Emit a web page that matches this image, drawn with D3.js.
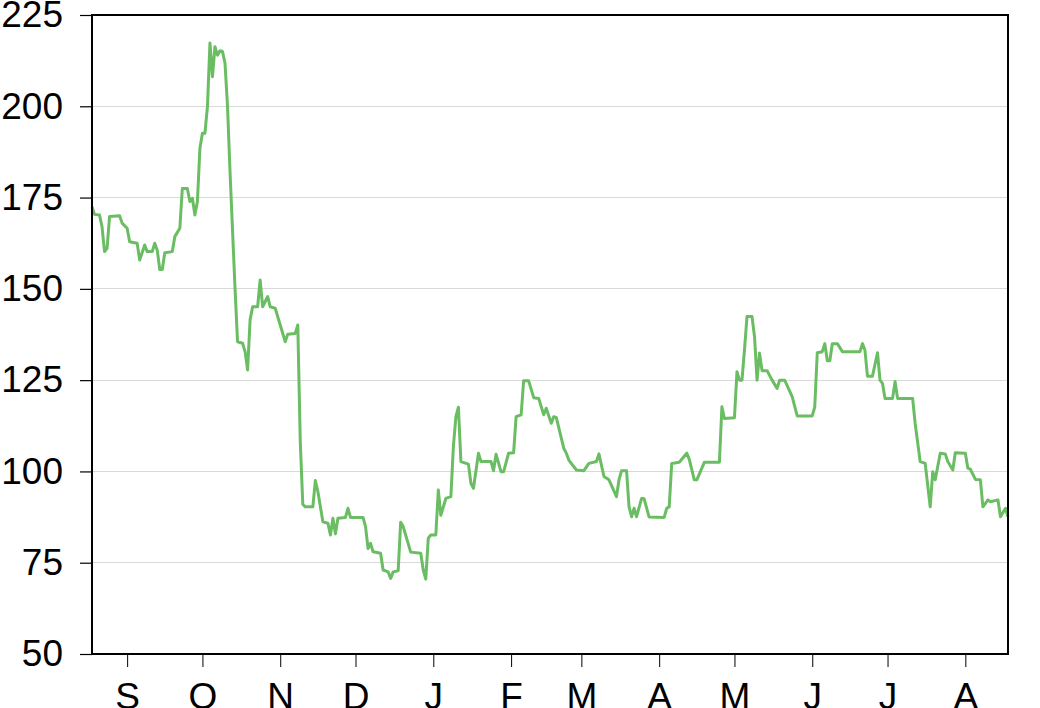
<!DOCTYPE html>
<html>
<head>
<meta charset="utf-8">
<script src="https://cdn.jsdelivr.net/npm/d3@7"></script>
<style>
  html, body { margin: 0; padding: 0; background: #fff; }
  svg { display: block; }
  text { font-family: "Liberation Sans", Arial, sans-serif; }
</style>
</head>
<body>
<div id="chart"></div>
<script>
// ---- data ----
const dates = [
"2013-08-18","2013-08-19","2013-08-21","2013-08-22","2013-08-23","2013-08-24","2013-08-25","2013-08-29","2013-08-30",
"2013-09-01","2013-09-02","2013-09-05","2013-09-06","2013-09-08","2013-09-09","2013-09-11","2013-09-12","2013-09-13",
"2013-09-14","2013-09-15","2013-09-16","2013-09-19","2013-09-20","2013-09-22","2013-09-23","2013-09-25","2013-09-26",
"2013-09-27","2013-09-28","2013-09-29","2013-09-30",
"2013-10-01","2013-10-02","2013-10-03","2013-10-04","2013-10-05","2013-10-06","2013-10-07","2013-10-08","2013-10-09",
"2013-10-10","2013-10-11","2013-10-12","2013-10-13","2013-10-14","2013-10-15","2013-10-17","2013-10-18","2013-10-19",
"2013-10-20","2013-10-21","2013-10-23","2013-10-24","2013-10-25","2013-10-27","2013-10-28","2013-10-30","2013-10-31",
"2013-11-01","2013-11-03","2013-11-04","2013-11-07","2013-11-08","2013-11-09","2013-11-10","2013-11-11","2013-11-14",
"2013-11-15","2013-11-16","2013-11-18","2013-11-20","2013-11-21","2013-11-22","2013-11-23","2013-11-24","2013-11-27",
"2013-11-28","2013-11-29",
"2013-12-04","2013-12-05","2013-12-06","2013-12-07","2013-12-08","2013-12-11","2013-12-12","2013-12-14","2013-12-15",
"2013-12-16","2013-12-18","2013-12-19","2013-12-20","2013-12-23","2013-12-27","2013-12-28","2013-12-29","2013-12-30",
"2013-12-31",
"2014-01-02","2014-01-03","2014-01-04","2014-01-06","2014-01-08","2014-01-09","2014-01-10","2014-01-11","2014-01-12",
"2014-01-15","2014-01-16","2014-01-17","2014-01-19","2014-01-20","2014-01-24","2014-01-25","2014-01-26","2014-01-28",
"2014-01-29","2014-01-31",
"2014-02-02","2014-02-03","2014-02-05","2014-02-06","2014-02-08","2014-02-10","2014-02-12","2014-02-14","2014-02-15",
"2014-02-17","2014-02-18","2014-02-19","2014-02-22","2014-02-23","2014-02-24","2014-02-27",
"2014-03-02","2014-03-04","2014-03-07","2014-03-08","2014-03-10","2014-03-12","2014-03-15","2014-03-16","2014-03-17",
"2014-03-19","2014-03-20","2014-03-21","2014-03-22","2014-03-23","2014-03-25","2014-03-26","2014-03-28",
"2014-04-03","2014-04-04","2014-04-05","2014-04-06","2014-04-09","2014-04-12","2014-04-13","2014-04-15","2014-04-16",
"2014-04-19","2014-04-25","2014-04-26","2014-04-27",
"2014-05-01","2014-05-02","2014-05-03","2014-05-04","2014-05-05","2014-05-06","2014-05-08","2014-05-09","2014-05-10",
"2014-05-11","2014-05-12","2014-05-14","2014-05-16","2014-05-18","2014-05-19","2014-05-21","2014-05-24","2014-05-26",
"2014-06-01","2014-06-02","2014-06-03","2014-06-05","2014-06-06","2014-06-07","2014-06-08","2014-06-09","2014-06-11",
"2014-06-13","2014-06-20","2014-06-21","2014-06-22","2014-06-23","2014-06-25","2014-06-27","2014-06-28","2014-06-29",
"2014-06-30",
"2014-07-03","2014-07-04","2014-07-05","2014-07-11","2014-07-12","2014-07-14","2014-07-16","2014-07-18","2014-07-19",
"2014-07-20","2014-07-22","2014-07-24","2014-07-25","2014-07-27","2014-07-28",
"2014-08-01","2014-08-02","2014-08-03","2014-08-05","2014-08-07","2014-08-08","2014-08-10","2014-08-11","2014-08-14",
"2014-08-15","2014-08-17","2014-08-18"
];
const values = [
172.5,170.4,170.2,167,160.2,161.1,169.8,170,168,
166.6,162.9,162.5,157.9,162,160.2,160.2,162.5,160.6,
155.3,155.3,159.9,160.2,164.3,166.6,177.5,177.5,173.9,
174.8,170.2,173.9,188.5,
192.6,192.6,199.9,217.3,208.1,216.3,214,215.2,215,
211.8,200,182,166,150,135.5,135.1,132.8,127.8,
141.5,145.1,145.1,152.4,145.1,147.9,145.1,144.7,142.4,
140.1,135.5,137.6,137.8,140.1,108,91,90.3,90.3,
97.5,94.5,86.2,85.8,82.6,87.2,82.9,87.2,87.4,
89.9,87.4,
87.4,84.9,78.9,80.3,78,77.6,73,72.5,70.7,
72.5,72.8,86.1,84.9,77.9,77.6,73,70.5,81.7,
82.6,
82.6,94.9,88,92.6,93.1,106.8,115,117.6,102.7,
102,96.7,95.4,105,102.7,102.7,100.2,104.7,99.9,
99.9,105,
105.1,115,115.5,124.8,124.8,120.2,120,115.5,117.3,
113.2,115,114.8,106.3,105,103.1,100.4,
100.2,102.2,102.7,104.8,98.6,97.7,93.1,97.7,100.2,
100.2,90.3,87.6,89.9,87.6,92.6,92.5,87.5,
87.4,89.9,90.3,102.2,102.5,105,103.3,97.7,97.7,
102.5,102.5,117.7,114.5,
114.7,127.3,125,125,133.3,142.4,142.4,136.9,125,
132.4,127.6,127.6,125,122.7,125,125,120.5,115.2,
115.2,117.7,132.5,132.8,135,130.3,130.3,135,135,
132.8,132.8,135,133.2,126.1,126.1,132.5,125,124.1,
120,
120,124.6,120,120,113.2,102.7,102.2,90.3,99.9,
97.7,105,104.8,102.7,100.4,105.1,
105,100.9,100.6,97.8,97.7,90.3,92.2,91.7,92.2,
87.6,89.9,87.6
];
const domainStart = "2013-08-18";
const domainEnd = "2014-08-18";
const yTicks = [50, 75, 100, 125, 150, 175, 200, 225];
const monthLetters = ["J","F","M","A","M","J","J","A","S","O","N","D"];

// ---- layout ----
const W = 1040, H = 708;
const margin = {left: 92, right: 32, top: 15, bottom: 54};
const iw = W - margin.left - margin.right;
const ih = H - margin.top - margin.bottom;
const parse = d3.utcParse("%Y-%m-%d");
const data = dates.map((d, i) => ({date: parse(d), value: values[i]}));

const svg = d3.select("#chart").append("svg").attr("width", W).attr("height", H);
const g = svg.append("g").attr("transform", `translate(${margin.left},${margin.top})`);

const x = d3.scaleUtc().domain([parse(domainStart), parse(domainEnd)]).range([0, iw]);
const y = d3.scaleLinear().domain([50, 225]).range([ih, 0]);

// gridlines
g.append("g").selectAll("line")
  .data(yTicks.filter(t => t > 50 && t < 225))
  .join("line")
  .attr("x1", 0).attr("x2", iw)
  .attr("y1", d => y(d)).attr("y2", d => y(d))
  .attr("stroke", "#d9d9d9").attr("stroke-width", 1)
  .attr("shape-rendering", "crispEdges");

// line
const line = d3.line().x(d => x(d.date)).y(d => y(d.value));
g.append("path").datum(data)
  .attr("d", line)
  .attr("fill", "none")
  .attr("stroke", "#6abd62")
  .attr("stroke-width", 3)
  .attr("stroke-linejoin", "round");

// frame
g.append("rect").attr("x", 0).attr("y", 0).attr("width", iw).attr("height", ih)
  .attr("fill", "none").attr("stroke", "#000").attr("stroke-width", 1.2)
  .attr("shape-rendering", "crispEdges");

// y axis
const yAxis = g.append("g")
  .call(d3.axisLeft(y).tickValues(yTicks).tickSize(12).tickPadding(17).tickFormat(d3.format("d")));
yAxis.select(".domain").remove();
yAxis.selectAll(".tick line").attr("stroke", "#000").attr("stroke-width", 1.2);
yAxis.selectAll(".tick text").attr("font-size", 37).attr("fill", "#000")
  .attr("font-family", "'Liberation Sans', Arial, sans-serif");

// x axis
const xAxis = g.append("g").attr("transform", `translate(0,${ih})`)
  .call(d3.axisBottom(x).ticks(d3.utcMonth.every(1)).tickSize(13).tickPadding(16)
    .tickFormat(d => monthLetters[d.getUTCMonth()]));
xAxis.select(".domain").remove();
xAxis.selectAll(".tick line").attr("stroke", "#000").attr("stroke-width", 1);
xAxis.selectAll(".tick text").attr("font-size", 37).attr("fill", "#000")
  .attr("font-family", "'Liberation Sans', Arial, sans-serif");
</script>
</body>
</html>
